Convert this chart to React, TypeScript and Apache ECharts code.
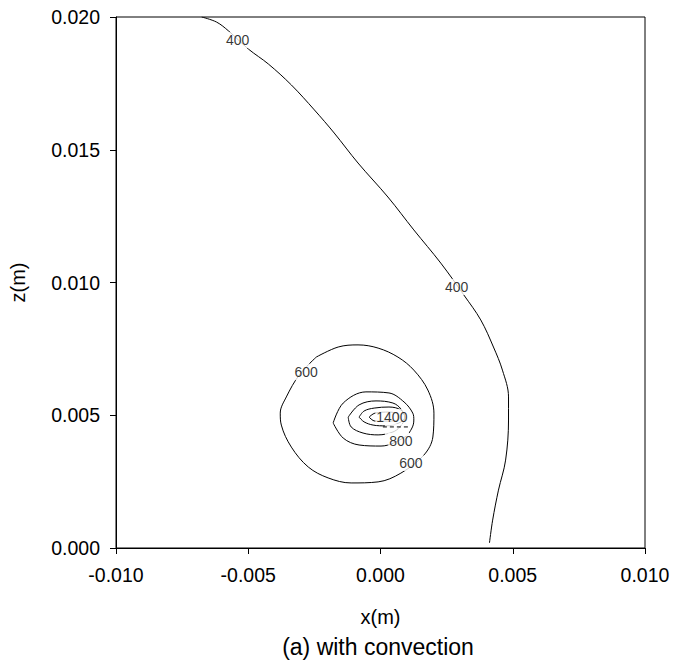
import React, { useEffect, useRef } from "react";
import * as echarts from "echarts";

// Axis ticks
const xTicks = [-0.01, -0.005, 0, 0.005, 0.01];
const yTicks = [0, 0.005, 0.01, 0.015, 0.02];

// Contour lines, [x, z] in metres
const contour400 = [
  [-0.00676, 0.02], [-0.0062, 0.01981], [-0.00574, 0.01947], [-0.00499, 0.01879],
  [-0.00424, 0.01823], [-0.00337, 0.01744], [-0.0025, 0.0165], [-0.00175, 0.01563],
  [-0.00085, 0.0145], [0.00028, 0.01322], [0.00126, 0.01198], [0.00228, 0.01073],
  [0.00315, 0.00953], [0.00379, 0.00859], [0.00427, 0.00757], [0.00461, 0.0067],
  [0.00484, 0.00569], [0.00484, 0.00482], [0.00473, 0.00331], [0.00446, 0.00218],
  [0.00424, 0.00105], [0.00412, 0.00019],
];
const contour600 = [
  [-0.00243, 0.00719], [-0.0016, 0.00757], [-0.00085, 0.00765], [-0.00009, 0.00753],
  [0.00066, 0.00719], [0.00126, 0.0067], [0.00179, 0.00595], [0.00202, 0.00508],
  [0.00198, 0.00418], [0.00164, 0.0035], [0.00077, 0.00282], [-0.00009, 0.00249],
  [-0.00111, 0.00245], [-0.00198, 0.00264], [-0.00273, 0.00305], [-0.00337, 0.0038],
  [-0.00375, 0.00463], [-0.00379, 0.00508], [-0.00356, 0.00569], [-0.00307, 0.00652],
  [-0.00243, 0.00719],
];
const contour800 = [
  [-0.00179, 0.00471], [-0.00141, 0.00546], [-0.00055, 0.00588], [0.00032, 0.00584],
  [0.00089, 0.0055], [0.00122, 0.00508], [0.00126, 0.00482], [0.00119, 0.00452],
  [0.00092, 0.00418], [0.00002, 0.00384], [-0.00081, 0.00388], [-0.00141, 0.00414],
  [-0.00179, 0.00471],
];
const contour1000 = [
  [-0.00122, 0.00493], [-0.00081, 0.00539], [-0.00017, 0.00554], [0.00047, 0.00546],
  [0.00077, 0.00524], [0.00092, 0.0049], [0.00073, 0.00456], [0.00047, 0.00437],
  [-0.00009, 0.00426], [-0.00066, 0.00433], [-0.00111, 0.00456], [-0.00122, 0.00493],
];
const contour1200 = [
  [-0.00081, 0.00493], [-0.00062, 0.00516], [-0.00024, 0.00527], [0.00032, 0.00531],
  [0.00077, 0.0052], [0.00092, 0.00493], [0.0007, 0.00471], [0.00021, 0.0046],
  [-0.00028, 0.00463], [-0.00062, 0.00475], [-0.00081, 0.00493],
];
const contour1400 = [
  [-0.00043, 0.00493], [-0.00021, 0.00508], [0.00032, 0.00512], [0.0007, 0.00501],
  [0.0007, 0.00486], [0.00032, 0.00478], [-0.00021, 0.00478], [-0.00043, 0.00493],
];

// Contour labels: [x, z, text]
const contourLabels: [number, number, string][] = [
  [-0.0054, 0.01913, "400"],
  [0.00288, 0.00983, "400"],
  [-0.00281, 0.00663, "600"],
  [0.00115, 0.0032, "600"],
  [0.00077, 0.00403, "800"],
  [0.00043, 0.00493, "1400"],
];
// Hidden (overlapped) label remnant
const hiddenLabel = [[0.00062, 0.00444]];
const hiddenDash = [[0.00009, 0.00456], [0.00104, 0.00456]];

const FONT = "'Liberation Sans', Arial, sans-serif";

export default function App() {
  const ref = useRef<HTMLDivElement>(null);
  useEffect(() => {
    if (!ref.current) return;
    const chart = echarts.init(ref.current, undefined, { renderer: "svg" });
    const fmt = (v: number) => (Math.abs(v) < 1e-12 ? "0.000" : v.toFixed(3));
    const lineSeries = [contour400, contour600, contour800, contour1000, contour1200, contour1400].map(
      (d, i) => ({
        type: "line",
        name: "c" + i,
        data: d,
        smooth: 0.35,
        showSymbol: false,
        silent: true,
        z: 2,
        lineStyle: { color: "#000", width: 1 },
      })
    );
    chart.setOption({
      animation: false,
      textStyle: { fontFamily: FONT },
      grid: {
        left: 114,
        right: 29,
        top: 17,
        bottom: 116,
        show: true,
        borderColor: "#000",
        borderWidth: 1,
      },
      xAxis: {
        type: "value",
        min: xTicks[0],
        max: xTicks[xTicks.length - 1],
        interval: xTicks[1] - xTicks[0],
        name: "x(m)",
        nameLocation: "middle",
        nameGap: 59,
        nameTextStyle: { fontSize: 20, color: "#000", fontFamily: FONT },
        axisLine: { show: true, onZero: false, lineStyle: { color: "#000", width: 1 } },
        axisTick: { show: true, inside: false, length: 6, lineStyle: { color: "#000" } },
        splitLine: { show: false },
        axisLabel: { fontSize: 19.5, color: "#000", margin: 17, fontFamily: FONT, formatter: fmt },
      },
      yAxis: {
        type: "value",
        min: yTicks[0],
        max: yTicks[yTicks.length - 1],
        interval: yTicks[1] - yTicks[0],
        name: "z(m)",
        nameLocation: "middle",
        nameGap: 88,
        nameTextStyle: { fontSize: 20, color: "#000", fontFamily: FONT },
        axisLine: { show: true, onZero: false, lineStyle: { color: "#000", width: 1 } },
        axisTick: { show: true, inside: false, length: 6, lineStyle: { color: "#000" } },
        splitLine: { show: false },
        axisLabel: { fontSize: 19.5, color: "#000", margin: 16, fontFamily: FONT, formatter: fmt },
      },
      graphic: [
        {
          type: "text",
          x: 378,
          y: 647,
          style: {
            text: "(a) with convection",
            font: "23px " + FONT,
            fill: "#000",
            textAlign: "center",
            textVerticalAlign: "middle",
          },
        },
      ],
      series: [
        ...lineSeries,
        {
          type: "scatter",
          name: "hidden",
          data: hiddenLabel,
          symbol: "rect",
          symbolSize: [24, 12],
          silent: true,
          z: 3,
          itemStyle: { color: "#fff" },
        },
        {
          type: "scatter",
          name: "labels",
          data: contourLabels.map((l) => ({ value: [l[0], l[1]], name: l[2] })),
          symbolSize: 1,
          silent: true,
          z: 3,
          itemStyle: { color: "rgba(0,0,0,0)" },
          label: {
            show: true,
            position: "inside",
            formatter: "{b}",
            fontSize: 14,
            fontFamily: FONT,
            color: "#000",
            backgroundColor: "#fff",
            padding: [1, 1],
          },
        },
        {
          type: "line",
          name: "dash",
          data: hiddenDash,
          showSymbol: false,
          silent: true,
          z: 4,
          lineStyle: { color: "#000", width: 1, type: [4, 3] },
        },
      ],
    });
    return () => chart.dispose();
  }, []);
  return (
    <div
      ref={ref}
      style={{ position: "absolute", left: 0, top: 0, width: 674, height: 664, background: "#fff" }}
    />
  );
}
